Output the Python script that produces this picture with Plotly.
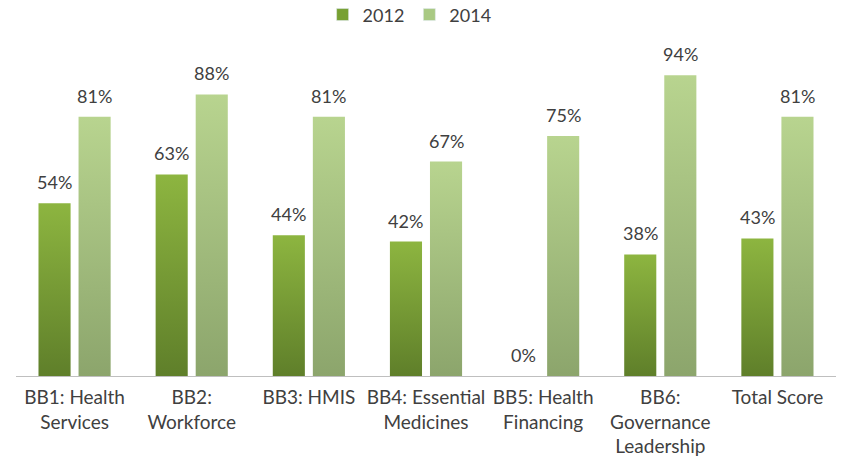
import plotly.graph_objects as go

categories = ["BB1: Health<br>Services", "BB2:<br>Workforce", "BB3: HMIS",
              "BB4: Essential<br>Medicines", "BB5: Health<br>Financing",
              "BB6:<br>Governance<br>Leadership", "Total Score"]
series_names = ["2012", "2014"]
values_2012 = [54, 63, 44, 42, 0, 38, 43]
values_2014 = [81, 88, 81, 67, 75, 94, 81]

series = [values_2012, values_2014]
grad = [["#5f7f2a", "#8db540"], ["#8ca56c", "#b8d48f"]]
legend_col = ["#77a032", "#a9c983"]
bar_w = 0.274
gap = 0.068
offsets = [-(bar_w + gap) / 2, (bar_w + gap) / 2]
FONT = "Lato"
TXT = "#404040"

fig = go.Figure()
for s, vals in enumerate(series):
    for i, v in enumerate(vals):
        xc = i + offsets[s]
        if v > 0:
            fig.add_trace(go.Scatter(
                x=[xc - bar_w / 2, xc + bar_w / 2, xc + bar_w / 2, xc - bar_w / 2, xc - bar_w / 2],
                y=[0, 0, v, v, 0], mode="lines", fill="toself",
                line=dict(width=0, color=grad[s][1]),
                fillgradient=dict(type="vertical", colorscale=[[0, grad[s][0]], [1, grad[s][1]]]),
                showlegend=False, hoverinfo="skip"))
        fig.add_annotation(x=xc, y=v, text=f"{v}%", showarrow=False,
                           xanchor="center", yanchor="bottom", yshift=8,
                           font=dict(family=FONT, size=18, color=TXT))
    fig.add_trace(go.Bar(x=[None], y=[None], name=series_names[s],
                         marker=dict(color=legend_col[s]), showlegend=True))

fig.update_layout(
    width=844, height=464,
    margin=dict(l=16, r=8, t=56, b=88),
    paper_bgcolor="white", plot_bgcolor="white",
    font=dict(family=FONT, size=18, color=TXT),
    legend=dict(orientation="h", x=0.48, xanchor="center", y=0.968, yanchor="middle",
                yref="container", font=dict(size=18), itemwidth=30, traceorder="normal"),
    showlegend=True,
)
fig.update_xaxes(range=[-0.5, len(categories) - 0.5], tickmode="array",
                 tickvals=list(range(len(categories))), ticktext=categories,
                 showgrid=False, zeroline=False, showline=False, ticks="",
                 ticklabelstandoff=8,
                 tickfont=dict(family=FONT, size=19, color=TXT))
fig.update_yaxes(range=[0, 100], showgrid=False, zeroline=True, zerolinecolor="#bfbfbf",
                 zerolinewidth=1, showticklabels=False, showline=False)

fig.write_html("out.html")
